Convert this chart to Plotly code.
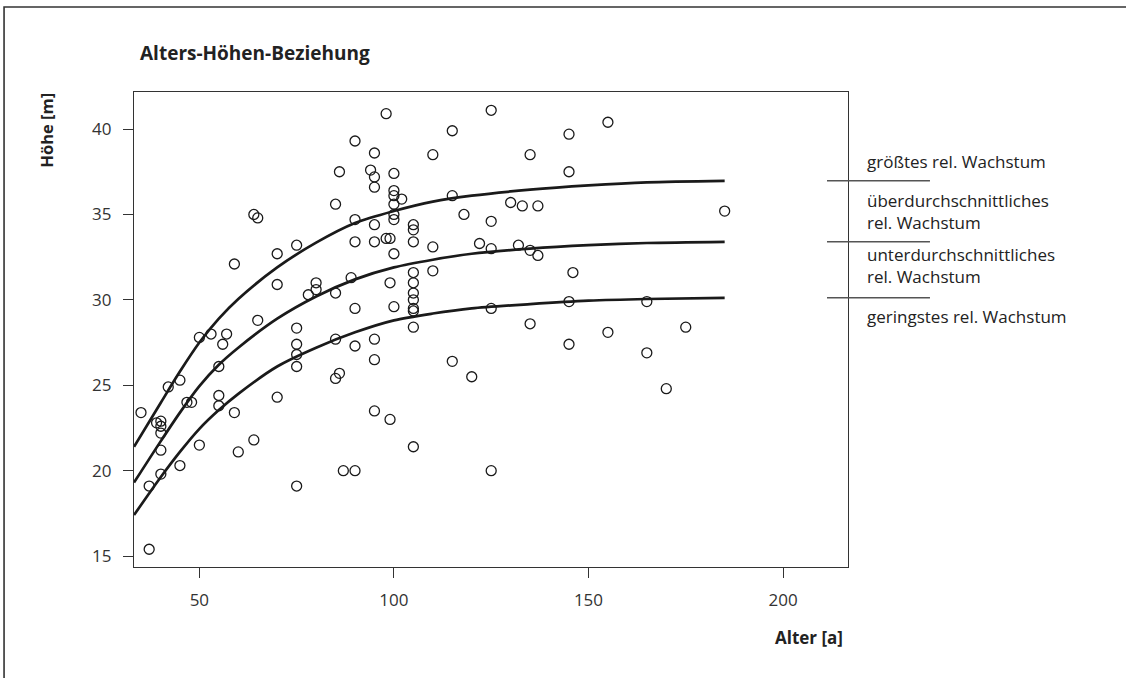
import plotly.graph_objects as go

# ---- data ----
alter = [35.0, 37.1, 37.1, 39.0, 40.1, 40.1, 40.1, 40.1, 40.1, 42.0, 45.0, 45.0, 46.8, 48.0,
         50.0, 50.0, 53.0, 55.0, 55.0, 55.0, 56.0, 57.0, 59.0, 59.0, 60.0, 64.0, 65.0, 64.0,
         65.0, 70.0, 70.0, 70.0, 75.0, 75.0, 75.0, 75.0, 75.0, 75.0, 78.0, 80.0, 80.0, 85.0,
         86.0, 85.0, 85.0, 85.0, 86.0, 87.0, 89.0, 90.0, 90.0, 90.0, 90.0, 90.0, 90.0, 94.0,
         95.0, 95.0, 95.0, 95.0, 95.0, 95.0, 95.0, 95.0, 98.0, 98.0, 99.0, 99.0, 99.0, 100.0,
         100.0, 100.0, 100.0, 100.0, 100.0, 100.0, 100.0, 102.0, 105.0, 105.0, 105.0, 105.0,
         105.0, 105.0, 105.0, 105.0, 105.0, 105.0, 105.0, 110.0, 110.0, 110.0, 115.0, 115.0,
         115.0, 118.0, 120.0, 122.0, 125.0, 125.0, 125.0, 125.0, 125.0, 130.0, 132.0, 133.0,
         135.0, 135.0, 135.0, 137.0, 137.0, 145.0, 145.0, 145.0, 145.0, 146.0, 155.0, 155.0,
         165.0, 165.0, 170.0, 175.0, 185.0]
hoehe = [23.4, 19.1, 15.4, 22.8, 22.9, 22.6, 22.2, 21.2, 19.8, 24.9, 25.3, 20.3, 24.0, 24.0,
         27.8, 21.5, 28.0, 26.1, 24.4, 23.8, 27.4, 28.0, 32.1, 23.4, 21.1, 35.0, 34.8, 21.8,
         28.8, 32.7, 30.9, 24.3, 33.2, 28.35, 27.4, 26.8, 26.1, 19.1, 30.3, 31.0, 30.6, 35.6,
         37.5, 30.4, 27.7, 25.4, 25.7, 20.0, 31.3, 39.3, 34.7, 33.4, 29.5, 27.3, 20.0, 37.6,
         38.6, 37.2, 36.6, 34.4, 33.4, 27.7, 26.5, 23.5, 40.9, 33.6, 33.6, 31.0, 23.0, 37.4,
         36.4, 36.1, 35.6, 35.0, 34.7, 32.7, 29.6, 35.9, 34.4, 34.1, 33.4, 31.6,
         31.0, 30.4, 30.0, 29.5, 29.35, 28.4, 21.4, 38.5, 33.1, 31.7, 39.9, 36.1,
         26.4, 35.0, 25.5, 33.3, 41.1, 34.6, 33.0, 29.5, 20.0, 35.7, 33.2, 35.5,
         38.5, 32.9, 28.6, 35.5, 32.6, 39.7, 37.5, 29.9, 27.4, 31.6, 40.4, 28.1,
         29.9, 26.9, 24.8, 28.4, 35.2]

curve_x = [33.2, 40, 45, 50, 55, 60, 70, 80, 90, 100, 110, 120, 135, 150, 165, 185]
curve_top = [21.4, 23.95, 25.8, 27.5, 28.9, 30.05, 31.9, 33.35, 34.5, 35.2, 35.75, 36.1, 36.45, 36.7, 36.88, 36.97]
curve_mid = [19.3, 21.7, 23.4, 24.95, 26.2, 27.2, 28.9, 30.2, 31.2, 31.9, 32.35, 32.7, 33.0, 33.2, 33.33, 33.40]
curve_low = [17.4, 19.6, 21.1, 22.45, 23.55, 24.5, 26.1, 27.2, 28.1, 28.8, 29.2, 29.5, 29.75, 29.95, 30.05, 30.12]

class_labels = ["größtes rel. Wachstum",
                "überdurchschnittliches<br>rel. Wachstum",
                "unterdurchschnittliches<br>rel. Wachstum",
                "geringstes rel. Wachstum"]
class_label_y = [38.09, 35.16, 31.99, 29.01]

x_ticks = [50, 100, 150, 200]
y_ticks = [15, 20, 25, 30, 35, 40]

title_text = "Alters-Höhen-Beziehung"
x_title = "Alter [a]"
y_title = "Höhe [m]"

# ---- figure ----
FONT = "Open Sans"
INK = "#222222"
XR = [33.2, 216.7]
YR = [14.36, 42.17]

fig = go.Figure()
for cy in (curve_top, curve_mid, curve_low):
    fig.add_trace(go.Scatter(x=curve_x, y=cy, mode="lines",
                             line=dict(color="#1a1a1a", width=2.7, shape="spline", smoothing=0.8),
                             hoverinfo="skip", showlegend=False))
fig.add_trace(go.Scatter(x=alter, y=hoehe, mode="markers",
                         marker=dict(symbol="circle-open", size=10, color="#1a1a1a",
                                     line=dict(width=1.3, color="#1a1a1a")),
                         showlegend=False))

shapes = []
# outer frame (top and left edges visible, others run off the page)
shapes.append(dict(type="rect", xref="paper", yref="paper", x0=-0.182, x1=1.7,
                   y0=-0.7, y1=1.179, line=dict(color="#333333", width=1.6)))
# right-side separator lines at curve end heights
for cy in (curve_top, curve_mid, curve_low):
    yp = (cy[-1] - YR[0]) / (YR[1] - YR[0])
    shapes.append(dict(type="line", xref="paper", yref="paper", x0=0.9706, x1=1.1148,
                       y0=yp, y1=yp, line=dict(color="#555555", width=1.5)))

annotations = []
for txt, yy in zip(class_labels, class_label_y):
    annotations.append(dict(text=txt, xref="paper", yref="y", x=1.0252, y=yy,
                            xanchor="left", yanchor="middle", align="left", showarrow=False,
                            borderpad=0,
                            font=dict(family=FONT, size=17, color=INK)))
annotations.append(dict(text="<b>" + title_text + "</b>", xref="paper", yref="paper",
                        x=0.0056, y=1.082, xanchor="left", yanchor="middle", showarrow=False,
                        font=dict(family=FONT, size=19, color=INK)))
annotations.append(dict(text="<b>" + y_title + "</b>", xref="paper", yref="paper",
                        x=-0.1223, y=0.92, xanchor="center", yanchor="middle", textangle=-90,
                        showarrow=False, font=dict(family=FONT, size=16.5, color=INK)))
annotations.append(dict(text="<b>" + x_title + "</b>", xref="paper", yref="paper",
                        x=0.9958, y=-0.1474, xanchor="right", yanchor="middle",
                        showarrow=False, font=dict(family=FONT, size=17, color=INK)))

axis_common = dict(showline=True, mirror=True, linecolor="#333333", linewidth=1.4,
                   ticks="outside", ticklen=10, tickwidth=1.4, tickcolor="#333333",
                   showgrid=False, zeroline=False,
                   tickfont=dict(family=FONT, size=17, color="#333333"))

fig.update_layout(
    width=1126, height=678,
    margin=dict(l=134, r=278, t=92, b=111),
    paper_bgcolor="white", plot_bgcolor="white",
    xaxis=dict(range=XR, tickvals=x_ticks, ticklabelstandoff=7, **axis_common),
    yaxis=dict(range=YR, tickvals=y_ticks, ticklabelstandoff=8, **axis_common),
    shapes=shapes, annotations=annotations, showlegend=False,
)

# remove the default page margin so the figure fills the window exactly
fig.write_html("out.html",
               config={"displayModeBar": False},
               post_script="document.body.style.margin='0';document.body.style.overflow='hidden';")
